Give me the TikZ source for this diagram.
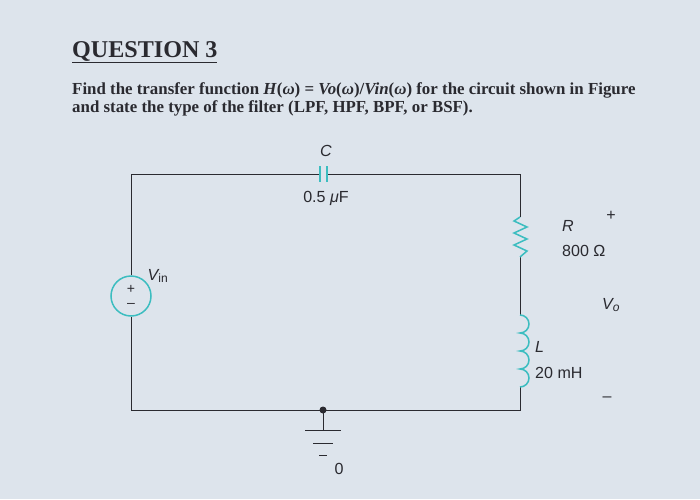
\documentclass[tikz,border=0pt]{standalone}
\usepackage{fontspec}
\setmainfont{Liberation Serif}
\setsansfont{Liberation Sans}
\definecolor{bg}{HTML}{DDE4EC}
\definecolor{teal}{HTML}{3CBDC0}
\definecolor{ink}{HTML}{2A2A30}
\begin{document}
\begin{tikzpicture}[x=0.035cm,y=-0.035cm,
  wire/.style={draw=ink,line width=1pt},
  comp/.style={draw=teal,line width=1.5pt},
  lbl/.style={font=\sffamily\fontsize{16}{18}\selectfont,text=ink,inner sep=0pt},
  body/.style={font=\bfseries\fontsize{16.8}{19}\selectfont,text=ink,anchor=west,inner sep=0pt}]
\fill[bg] (0,0) rectangle (700,499);
\useasboundingbox (0,0) rectangle (700,499);
\node[anchor=west,inner sep=0pt,text=ink,font=\bfseries\fontsize{24}{28}\selectfont] (title) at (72,52) {\underline{QUESTION 3}};
\node[body] (l1) at (72,90) {Find the transfer function \textit{H}(\textit{ω}) = \textit{Vo}(\textit{ω})/\textit{Vin}(\textit{ω}) for the circuit shown in Figure};
\node[body] (l2) at (72,108) {and state the type of the filter (LPF, HPF, BPF, or BSF).};
\coordinate (tl) at (131,174);
\coordinate (tr) at (520,174);
\coordinate (bl) at (131,410);
\coordinate (br) at (520,410);
\coordinate (g) at (323,410);
\node[circle,comp,minimum size=40*0.035cm,inner sep=0pt] (src) at (131,296) {};
\node[font=\sffamily\fontsize{14}{14}\selectfont,text=ink,inner sep=0pt] (sp) at (131,289) {+};
\node[font=\sffamily\fontsize{14}{14}\selectfont,text=ink,inner sep=0pt] (sm) at (131,305) {–};
\coordinate (c1) at (320,174);
\coordinate (c2) at (327,174);
\coordinate (r1) at (520,217);
\coordinate (r2) at (520,257);
\coordinate (i1) at (520,315);
\coordinate (i2) at (520,387);
\draw[wire] (src.north) -- (tl) -- (c1);
\draw[wire] (c2) -- (tr) -- (r1);
\draw[wire] (r2) -- (i1);
\draw[wire] (i2) -- (br) -- (bl) -- (src.south);
\draw[comp] (320,166) -- (320,182) (327,166) -- (327,182);
\draw[comp] (r1) -- (514,221) -- (527,227) -- (514,233) -- (527,239) -- (514,245) -- (527,251) -- (r2);
\draw[comp] (i1) arc[start angle=-90,end angle=90,radius=9] arc[start angle=-90,end angle=90,radius=9] arc[start angle=-90,end angle=90,radius=9] arc[start angle=-90,end angle=90,radius=9];
\fill[ink] (g) circle[radius=3.5];
\draw[wire] (g) -- (323,430);
\draw[wire] (305,430) -- (341,430) (313,443) -- (333,443) (319,455) -- (327,455);
\node[lbl] (lc) at (326,151) {\itshape C};
\node[lbl] (lcv) at (326,198) {0.5 \textit{μ}F};
\node[lbl,anchor=west] (lr) at (562,226) {\itshape R};
\node[lbl,anchor=west] (lrv) at (562,251) {800 Ω};
\node[lbl,anchor=west] (ll) at (535,347) {\itshape L};
\node[lbl,anchor=west] (llv) at (535,373) {20 mH};
\node[lbl] (vp) at (611,216) {+};
\node[lbl] (vo) at (611,305) {\itshape V\textsubscript{\fontsize{12}{12}\selectfont o}};
\node[lbl] (vm) at (607,399) {–};
\node[lbl] (vin) at (158,276) {\itshape V\textsubscript{\upshape\fontsize{12}{12}\selectfont in}};
\node[lbl] (zero) at (339,469) {0};
\end{tikzpicture}
\end{document}
